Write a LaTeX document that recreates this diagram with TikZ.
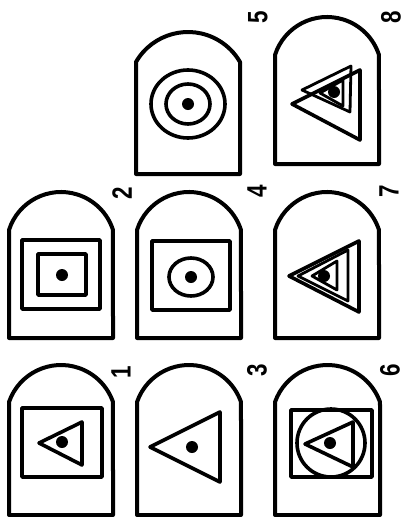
\documentclass[tikz,border=0pt]{standalone}
\usepackage{fontspec}
\setsansfont{Liberation Sans}
\tikzset{
  tombline/.style={line width=4pt, line join=round},
  figline/.style={line width=3.6pt, line join=round},
  thinfig/.style={line width=2.8pt, line join=round},
  dotfill/.style={fill=black},
  numlabel/.style={rotate=90, inner sep=0pt, font=\sffamily\bfseries\fontsize{28}{28}\selectfont}
}
\newcommand{\tombstone}[5]{% L R top corner bottom
  \pgfmathsetmacro{\tmbH}{(#2-#1)/2}
  \pgfmathsetmacro{\tmbS}{#4-#3}
  \pgfmathsetmacro{\tmbR}{(\tmbH*\tmbH+\tmbS*\tmbS)/(2*\tmbS)}
  \pgfmathsetmacro{\tmbA}{asin((\tmbR-\tmbS)/\tmbR)}
  \draw[tombline] (#1,#5) -- (#1,#4) arc[start angle=180-\tmbA, end angle=\tmbA, radius=\tmbR pt] -- (#2,#5) -- cycle;
}
\begin{document}
\begin{tikzpicture}[x=1pt,y=-1pt]
\useasboundingbox (0,0) rectangle (406,517);
% ---------- top row ----------
% 5
\tombstone{136}{240}{32}{62}{174}
\draw[figline] (188,104) ellipse [x radius=37pt, y radius=34pt];
\draw[figline] (188,104) ellipse [x radius=22pt, y radius=20pt];
\fill[dotfill] (188,104) circle[radius=6pt];
\node[numlabel] (n5) at (258,17) {\scalebox{0.8}[1]{5}};
% 8
\tombstone{275}{379}{17}{55}{164}
\draw[figline] (292,104) -- (360,70) -- (360,140) -- cycle;
\draw[thinfig] (302,90) -- (351,66) -- (350,112) -- cycle;
\draw[thinfig] (320,93) -- (343,80) -- (343,106) -- cycle;
\fill[dotfill] (334,92) circle[radius=6pt];
\node[numlabel] (n8) at (391,17) {\scalebox{0.8}[1]{8}};
% ---------- middle row ----------
% 2
\tombstone{9}{113}{192}{230}{338}
\draw[figline] (22,240) rectangle (100,309);
\draw[figline] (38,254) rectangle (86,295);
\fill[dotfill] (62,275) circle[radius=6pt];
\node[numlabel] (n2) at (122,193) {\scalebox{0.8}[1]{2}};
% 4
\tombstone{137}{241}{192}{230}{338}
\draw[figline] (152,241) rectangle (230,310);
\draw[figline] (191,277) ellipse [x radius=22pt, y radius=19pt];
\fill[dotfill] (191,277) circle[radius=6pt];
\node[numlabel] (n4) at (257,191) {\scalebox{0.8}[1]{4}};
% 7
\tombstone{275}{379}{192}{230}{338}
\draw[figline] (289,276) -- (359,241) -- (359,312) -- cycle;
\draw[thinfig] (298,276) -- (348,250) -- (348,301) -- cycle;
\draw[thinfig] (312,276) -- (337,261) -- (337,290) -- cycle;
\fill[dotfill] (324,276) circle[radius=6pt];
\node[numlabel] (n7) at (389,191) {\scalebox{0.8}[1]{7}};
% ---------- bottom row ----------
% 1
\tombstone{9}{113}{365}{402}{515}
\draw[figline] (22,408) rectangle (102,477);
\draw[figline] (39,443) -- (82,422) -- (82,465) -- cycle;
\fill[dotfill] (62,442) circle[radius=6pt];
\node[numlabel] (n1) at (121,372) {\scalebox{0.8}[1]{1}};
% 3
\tombstone{137}{241}{365}{402}{515}
\draw[figline] (150,447) -- (220,412) -- (220,482) -- cycle;
\fill[dotfill] (192,447) circle[radius=6pt];
\node[numlabel] (n3) at (257,370) {\scalebox{0.8}[1]{3}};
% 6
\tombstone{275}{380}{365}{402}{515}
\draw[figline] (291,410) rectangle (372,477);
\draw[figline] (331,443) circle[radius=34pt];
\draw[figline] (305,444) -- (353,422) -- (353,467) -- cycle;
\fill[dotfill] (330,443) circle[radius=6pt];
\node[numlabel] (n6) at (390,370) {\scalebox{0.8}[1]{6}};
\end{tikzpicture}
\end{document}
